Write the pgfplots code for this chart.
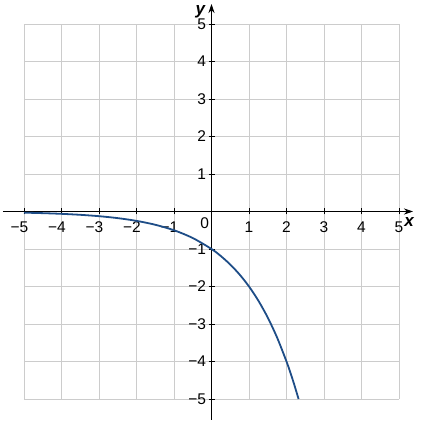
\documentclass[border=0pt]{standalone}
\usepackage{pgfplots}
\pgfplotsset{compat=1.18}
\usepackage{fontspec}
\setmainfont{Liberation Sans}
\usetikzlibrary{arrows.meta}
\definecolor{curveblue}{RGB}{30,77,135}
\definecolor{gridgray}{RGB}{204,204,204}
\newcommand{\tlfont}{\fontsize{15.5}{17}\selectfont}
\begin{document}
\begin{tikzpicture}
\begin{axis}[
    scale only axis,
    width=375pt, height=375pt,
    xmin=-5, xmax=5, ymin=-5, ymax=5,
    axis lines=middle,
    clip=false,
    axis line style={line width=0.9pt, black},
    x axis line style={-{Stealth[length=9pt,width=6pt]}, shorten <=-21pt, shorten >=-14pt},
    y axis line style={-{Stealth[length=9pt,width=6pt]}, shorten <=-21pt, shorten >=-20pt},
    grid=major,
    major grid style={line width=0.9pt, gridgray},
    xtick={-5,-4,-3,-2,-1,1,2,3,4,5},
    ytick={-5,-4,-3,-2,-1,1,2,3,4,5},
    xticklabels={\llap{−}5,\llap{−}4,\llap{−}3,\llap{−}2,\llap{−}1,1,2,3,4,5},
    yticklabels={−5,−4,−3,−2,−1,1,2,3,4,5},
    tick align=center,
    major tick length=6pt,
    tick style={line width=0.8pt, black},
    every tick label/.append style={font=\tlfont},
    /pgf/number format/assume math mode=true,
    xticklabel style={yshift=-3.5pt},
    yticklabel style={xshift=1pt},
]
\addplot[curveblue, line width=1.8pt, smooth] coordinates {
    (-5,-0.03125) (-4.5,-0.0442) (-4,-0.0625) (-3.5,-0.0884) (-3,-0.125)
    (-2.5,-0.1768) (-2,-0.25) (-1.5,-0.3536) (-1,-0.5) (-0.5,-0.7071)
    (0,-1) (0.25,-1.1892) (0.5,-1.4142) (0.75,-1.6818) (1,-2)
    (1.25,-2.3784) (1.5,-2.8284) (1.75,-3.3636) (2,-4)
    (2.1,-4.2871) (2.2,-4.5948) (2.3219,-5)
};
\node[font=\tlfont] at (axis cs:-0.18,-0.3) {0};
\node[font=\bfseries\itshape\fontsize{17}{19}\selectfont] at (axis cs:5.27,-0.27) {x};
\node[font=\bfseries\itshape\fontsize{17}{19}\selectfont] at (axis cs:-0.3,5.33) {y};
\coordinate (bl) at (axis cs:-5.64,-5.64);
\coordinate (tr) at (axis cs:5.64,5.64);
\end{axis}
\pgfresetboundingbox
\path[use as bounding box] (bl) rectangle (tr);
\end{tikzpicture}
\end{document}
